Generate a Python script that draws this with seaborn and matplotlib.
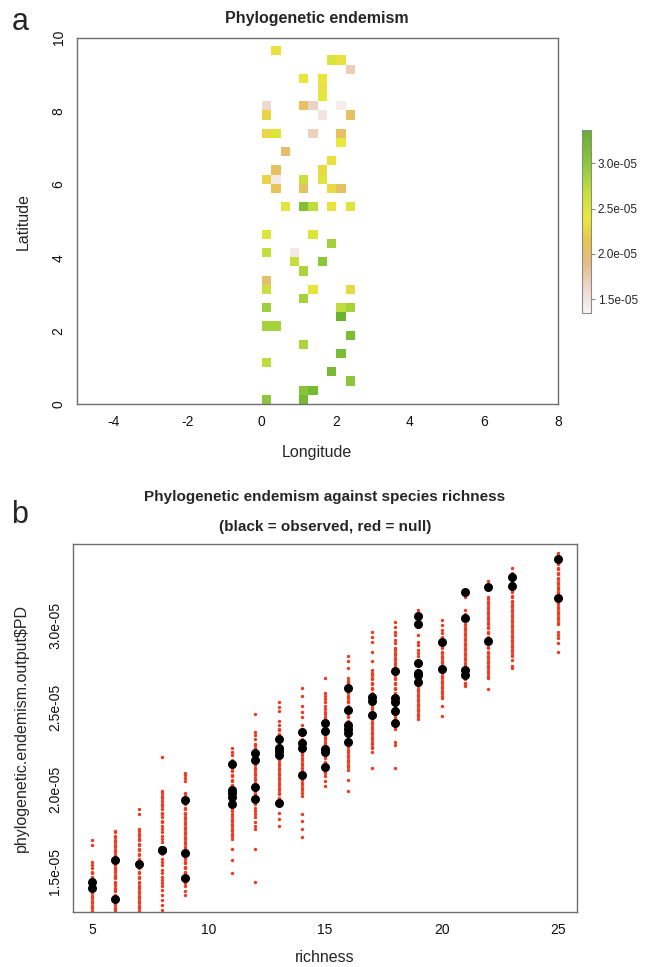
import numpy as np
import pandas as pd
import matplotlib
matplotlib.use("Agg")
import matplotlib.pyplot as plt
from matplotlib.colors import LinearSegmentedColormap
import seaborn as sns

# ---- panel a: gridded phylogenetic endemism (values in 1e-05) ----
# column index (0.25 deg wide, starting at lon 0) and lower latitude of each cell
cell_col = [1, 7, 8, 9, 4, 6, 6, 6, 0, 4, 5, 8, 0, 6, 9, 0, 1, 5, 8, 8, 2, 7, 1, 6,
            0, 1, 4, 6, 1, 4, 7, 8, 2, 4, 5, 7, 9, 0, 5, 7, 0, 3, 3, 6, 4, 0, 0, 5,
            9, 4, 0, 8, 9, 8, 0, 1, 9, 4, 8, 0, 7, 9, 4, 5, 0, 4]
cell_lat = [9.5, 9.25, 9.25, 9.0, 8.75, 8.75, 8.5, 8.25, 8.0, 8.0, 8.0, 8.0, 7.75, 7.75, 7.75,
            7.25, 7.25, 7.25, 7.25, 7.0, 6.75, 6.5, 6.25, 6.25, 6.0, 6.0, 6.0, 6.0, 5.75, 5.75,
            5.75, 5.75, 5.25, 5.25, 5.25, 5.25, 5.25, 4.5, 4.5, 4.25, 4.0, 4.0, 3.75, 3.75, 3.5,
            3.25, 3.0, 3.0, 3.0, 2.75, 2.5, 2.5, 2.5, 2.25, 2.0, 2.0, 1.75, 1.5, 1.25, 1.0,
            0.75, 0.5, 0.25, 0.25, 0.0, 0.0]
cell_pe = [2.35, 2.52, 2.35, 1.70, 2.38, 2.38, 2.35, 2.45, 1.60, 2.05, 1.65, 1.40, 2.25, 1.48, 2.05,
           2.28, 2.50, 1.68, 2.05, 2.40, 2.00, 2.35, 2.05, 2.30, 2.25, 1.45, 2.65, 2.48, 2.10, 2.05,
           2.30, 2.05, 2.48, 3.10, 2.70, 2.35, 2.50, 2.50, 2.50, 2.88, 2.68, 1.45, 2.68, 3.00, 2.82,
           2.00, 2.62, 2.45, 2.30, 2.85, 2.90, 2.70, 2.85, 3.30, 2.85, 2.85, 3.15, 2.82, 3.15, 2.72,
           3.20, 3.00, 3.05, 3.20, 3.00, 3.20]

pe_min, pe_max = 1.35, 3.37
pe_ticks = [1.5, 2.0, 2.5, 3.0]

# ---- panel b: observed PE (black) and null PE (red) by richness, in 1e-05 ----
obs = {
    5: [1.44, 1.40],
    6: [1.57, 1.335],
    7: [1.545],
    8: [1.635, 1.63],
    9: [1.935, 1.615, 1.46],
    11: [2.155, 2.0, 1.98, 1.955, 1.91],
    12: [2.22, 2.18, 2.014, 1.943],
    13: [2.31, 2.255, 2.235, 2.208, 1.918],
    14: [2.351, 2.286, 2.255, 2.086],
    15: [2.405, 2.354, 2.247, 2.227, 2.138],
    16: [2.616, 2.484, 2.392, 2.371, 2.347, 2.29],
    17: [2.565, 2.541, 2.453],
    18: [2.72, 2.555, 2.531, 2.48, 2.402],
    19: [3.057, 3.008, 2.77, 2.71, 2.70, 2.652],
    20: [2.90, 2.733],
    21: [3.201, 3.043, 2.729, 2.695],
    22: [3.235, 2.905],
    23: [3.296, 3.241],
    25: [3.401, 3.168],
}

null = {
    5: [1.69, 1.66, 1.56, 1.54, 1.52, 1.50, 1.49, 1.47, 1.46, 1.44, 1.43, 1.41, 1.40, 1.38,
        1.37, 1.35, 1.34, 1.32, 1.31, 1.29, 1.28, 1.26, 1.25],
    6: [1.75, 1.74, 1.72, 1.71, 1.69, 1.68, 1.66, 1.65, 1.63, 1.62, 1.60, 1.59, 1.58, 1.56,
        1.55, 1.54, 1.52, 1.51, 1.50, 1.48, 1.47, 1.46, 1.44, 1.43, 1.42, 1.40, 1.39, 1.38,
        1.36, 1.35, 1.34, 1.32, 1.31, 1.30, 1.28, 1.27, 1.26],
    7: [1.88, 1.85, 1.76, 1.75, 1.73, 1.72, 1.70, 1.69, 1.67, 1.66, 1.64, 1.63, 1.61, 1.60,
        1.58, 1.57, 1.55, 1.53, 1.52, 1.50, 1.49, 1.47, 1.46, 1.44, 1.43, 1.41, 1.40, 1.38,
        1.37, 1.35, 1.34, 1.32, 1.31, 1.29, 1.28, 1.26],
    8: [2.20, 1.99, 1.98, 1.96, 1.95, 1.93, 1.91, 1.90, 1.88, 1.86, 1.85, 1.83, 1.81, 1.80,
        1.78, 1.76, 1.74, 1.72, 1.70, 1.68, 1.65, 1.63, 1.61, 1.58, 1.56, 1.54, 1.51, 1.49,
        1.47, 1.45, 1.43, 1.41, 1.39, 1.36, 1.33, 1.30, 1.27],
    9: [2.10, 2.09, 2.07, 2.05, 1.98, 1.97, 1.95, 1.94, 1.92, 1.91, 1.89, 1.88, 1.86, 1.85,
        1.83, 1.82, 1.80, 1.79, 1.77, 1.76, 1.74, 1.73, 1.71, 1.70, 1.68, 1.67, 1.65, 1.64,
        1.62, 1.61, 1.59, 1.58, 1.56, 1.55, 1.53, 1.52, 1.50, 1.49, 1.47, 1.46, 1.44, 1.43,
        1.41, 1.38, 1.36],
    11: [2.25, 2.23, 2.21, 2.18, 2.17, 2.15, 2.14, 2.12, 2.11, 2.09, 2.08, 2.06, 2.05, 2.03,
         2.02, 2.00, 1.99, 1.97, 1.96, 1.94, 1.93, 1.91, 1.90, 1.88, 1.87, 1.85, 1.84, 1.82,
         1.81, 1.79, 1.78, 1.76, 1.75, 1.73, 1.72, 1.70, 1.64, 1.57, 1.49],
    12: [2.46, 2.35, 2.33, 2.31, 2.28, 2.27, 2.25, 2.24, 2.22, 2.21, 2.19, 2.18, 2.16, 2.15,
         2.13, 2.12, 2.10, 2.09, 2.07, 2.06, 2.04, 2.03, 2.01, 2.00, 1.98, 1.97, 1.95, 1.94,
         1.92, 1.91, 1.89, 1.87, 1.85, 1.83, 1.80, 1.78, 1.76, 1.64, 1.44],
    13: [2.53, 2.50, 2.48, 2.42, 2.39, 2.37, 2.36, 2.34, 2.33, 2.31, 2.30, 2.28, 2.27, 2.25,
         2.24, 2.22, 2.21, 2.19, 2.18, 2.16, 2.15, 2.13, 2.12, 2.10, 2.09, 2.07, 2.06, 2.04,
         2.03, 2.01, 2.00, 1.98, 1.97, 1.95, 1.94, 1.86, 1.82, 1.78],
    14: [2.62, 2.57, 2.51, 2.47, 2.44, 2.39, 2.37, 2.36, 2.34, 2.33, 2.31, 2.30, 2.28, 2.27,
         2.25, 2.24, 2.22, 2.21, 2.19, 2.18, 2.16, 2.15, 2.13, 2.12, 2.10, 2.09, 2.07, 2.06,
         2.04, 2.03, 2.01, 2.00, 1.98, 1.96, 1.85, 1.81, 1.76, 1.71],
    15: [2.68, 2.59, 2.57, 2.55, 2.53, 2.51, 2.49, 2.47, 2.46, 2.44, 2.43, 2.41, 2.40, 2.38,
         2.37, 2.35, 2.34, 2.32, 2.31, 2.29, 2.28, 2.26, 2.25, 2.23, 2.22, 2.20, 2.19, 2.17,
         2.16, 2.14, 2.13, 2.11, 2.10, 2.08, 2.05, 2.02],
    16: [2.81, 2.78, 2.74, 2.68, 2.66, 2.65, 2.63, 2.62, 2.60, 2.59, 2.57, 2.56, 2.54, 2.53,
         2.51, 2.50, 2.48, 2.47, 2.45, 2.44, 2.42, 2.41, 2.39, 2.38, 2.36, 2.35, 2.33, 2.32,
         2.30, 2.29, 2.27, 2.26, 2.24, 2.23, 2.21, 2.20, 2.18, 2.17, 2.15, 2.14, 2.12, 2.06,
         1.99],
    17: [2.96, 2.93, 2.90, 2.84, 2.78, 2.73, 2.71, 2.70, 2.68, 2.67, 2.65, 2.64, 2.62, 2.61,
         2.59, 2.58, 2.56, 2.55, 2.53, 2.52, 2.50, 2.49, 2.47, 2.46, 2.44, 2.43, 2.41, 2.40,
         2.38, 2.37, 2.35, 2.34, 2.32, 2.31, 2.29, 2.28, 2.26, 2.25, 2.23, 2.13],
    18: [3.02, 2.99, 2.96, 2.94, 2.91, 2.89, 2.86, 2.85, 2.83, 2.82, 2.80, 2.79, 2.77, 2.76,
         2.74, 2.73, 2.71, 2.70, 2.68, 2.67, 2.65, 2.64, 2.62, 2.61, 2.59, 2.58, 2.56, 2.55,
         2.53, 2.52, 2.50, 2.49, 2.47, 2.46, 2.44, 2.43, 2.41, 2.40, 2.38, 2.37, 2.29, 2.27,
         2.13],
    19: [3.09, 3.07, 3.04, 3.02, 2.99, 2.94, 2.90, 2.88, 2.85, 2.83, 2.81, 2.79, 2.78, 2.76,
         2.75, 2.73, 2.72, 2.70, 2.69, 2.67, 2.66, 2.64, 2.63, 2.61, 2.60, 2.58, 2.57, 2.55,
         2.54, 2.52, 2.51, 2.49, 2.48, 2.46, 2.45, 2.43],
    20: [3.03, 3.00, 2.97, 2.95, 2.93, 2.92, 2.90, 2.89, 2.87, 2.86, 2.84, 2.83, 2.81, 2.80,
         2.78, 2.77, 2.75, 2.74, 2.72, 2.71, 2.69, 2.68, 2.66, 2.65, 2.63, 2.62, 2.60, 2.59,
         2.57, 2.56, 2.51, 2.45],
    21: [3.17, 3.09, 3.07, 3.06, 3.04, 3.03, 3.01, 3.00, 2.98, 2.97, 2.95, 2.94, 2.92, 2.91,
         2.89, 2.88, 2.86, 2.85, 2.83, 2.82, 2.80, 2.79, 2.77, 2.76, 2.74, 2.73, 2.71, 2.70,
         2.68, 2.67, 2.65, 2.64, 2.63],
    22: [3.27, 3.17, 3.16, 3.14, 3.13, 3.11, 3.10, 3.08, 3.07, 3.05, 3.04, 3.02, 3.01, 2.99,
         2.98, 2.96, 2.95, 2.93, 2.92, 2.90, 2.89, 2.87, 2.86, 2.84, 2.83, 2.81, 2.80, 2.78,
         2.77, 2.75, 2.74, 2.72, 2.71, 2.69, 2.68, 2.61],
    23: [3.35, 3.32, 3.30, 3.29, 3.27, 3.26, 3.24, 3.23, 3.21, 3.20, 3.18, 3.17, 3.15, 3.14,
         3.12, 3.11, 3.09, 3.08, 3.06, 3.05, 3.03, 3.02, 3.00, 2.99, 2.97, 2.96, 2.94, 2.93,
         2.91, 2.90, 2.88, 2.87, 2.85, 2.84, 2.82, 2.81, 2.79, 2.75, 2.74],
    25: [3.44, 3.43, 3.41, 3.40, 3.38, 3.37, 3.35, 3.34, 3.32, 3.31, 3.29, 3.28, 3.26, 3.25,
         3.23, 3.22, 3.20, 3.19, 3.17, 3.16, 3.14, 3.13, 3.11, 3.10, 3.08, 3.07, 3.05, 3.04,
         3.02, 3.01, 2.96, 2.94, 2.92, 2.89, 2.84],
}

b_ticks = [1.5, 2.0, 2.5, 3.0]
b_ylim = (1.253, 3.496)
b_xlim = (4.2, 25.8)

AXIS_COL = "#6e6e6e"


def style_axes(ax):
    for s in ax.spines.values():
        s.set_visible(True)
        s.set_color(AXIS_COL)
        s.set_linewidth(1.0)
    ax.tick_params(direction="out", length=5, width=1.0, color=AXIS_COL,
                   labelsize=10, pad=3, labelcolor="#111111")
    ax.tick_params(axis="y", labelrotation=90)
    for lab in ax.get_yticklabels():
        lab.set_va("center")


def main():
    sns.set_theme(style="white")
    plt.rcParams["font.family"] = ["Liberation Sans", "DejaVu Sans"]
    plt.rcParams["axes.unicode_minus"] = False

    fig = plt.figure(figsize=(6.48, 9.67), dpi=100)
    W, H = 648, 967

    def rect(l, t, r, b):
        return [l / W, 1 - b / H, (r - l) / W, (b - t) / H]

    # ---------------- panel a ----------------
    ax_a = fig.add_axes(rect(76.7, 37.7, 558, 404.3))
    cells = pd.DataFrame({"col": cell_col, "lat": cell_lat, "pe": cell_pe})
    cells["row"] = (np.array(cell_lat) / 0.25).astype(int)
    grid = cells.pivot_table(index="row", columns="col", values="pe")
    grid = grid.reindex(index=range(40), columns=range(10))

    cmap = LinearSegmentedColormap.from_list("pe", [
        (0.0, "#f7f4f4"),
        ((1.6 - pe_min) / (pe_max - pe_min), "#eed8d0"),
        ((1.9 - pe_min) / (pe_max - pe_min), "#e6bc84"),
        ((2.15 - pe_min) / (pe_max - pe_min), "#e7c64e"),
        ((2.4 - pe_min) / (pe_max - pe_min), "#ebe83c"),
        ((2.7 - pe_min) / (pe_max - pe_min), "#c2de3e"),
        ((3.0 - pe_min) / (pe_max - pe_min), "#8dc83c"),
        (1.0, "#66ae30"),
    ])
    im = ax_a.imshow(grid.values * 1e-5, origin="lower", extent=[0, 2.5, 0, 10],
                     cmap=cmap, vmin=pe_min * 1e-5, vmax=pe_max * 1e-5,
                     interpolation="nearest", aspect="auto")
    ax_a.set_xlim(-5, 8)
    ax_a.set_ylim(0, 10)
    ax_a.set_xticks([-4, -2, 0, 2, 4, 6, 8])
    ax_a.set_yticks([0, 2, 4, 6, 8, 10])
    style_axes(ax_a)
    ax_a.set_xlabel("Longitude", fontsize=11.5)
    ax_a.set_ylabel("Latitude", fontsize=11.5)
    ax_a.xaxis.set_label_coords(0.5, -(452 - 404.3) / 366.6)
    ax_a.xaxis.label.set_va("center")
    ax_a.yaxis.set_label_coords(-(76.7 - 23) / 481.3, 0.5)
    ax_a.yaxis.label.set_va("center")
    fig.text(317 / W, 1 - 18 / H, "Phylogenetic endemism", ha="center", va="center",
             fontsize=11.5, fontweight="bold")
    fig.text(20 / W, 1 - 22 / H, "a", ha="center", va="center", fontsize=22)

    cax = fig.add_axes(rect(581.7, 130, 590.7, 312.7))
    cb = fig.colorbar(im, cax=cax, ticks=[t * 1e-5 for t in pe_ticks])
    cb.ax.set_yticklabels([f"{t * 1e-5:.1e}" for t in pe_ticks])
    cb.outline.set_edgecolor("#8a8a8a")
    cb.outline.set_linewidth(0.8)
    cb.ax.tick_params(length=3, width=0.8, color="#8a8a8a", labelsize=8.5, pad=2)

    # ---------------- panel b ----------------
    ax_b = fig.add_axes(rect(73.3, 543.7, 577, 912.3))
    null_df = pd.DataFrame([(r, v * 1e-5) for r, vals in null.items() for v in vals],
                           columns=["richness", "pe"])
    obs_df = pd.DataFrame([(r, v * 1e-5) for r, vals in obs.items() for v in vals],
                          columns=["richness", "pe"])
    sns.scatterplot(data=null_df, x="richness", y="pe", ax=ax_b, color="#ee3b1f",
                    s=6, linewidth=0, zorder=2)
    sns.scatterplot(data=obs_df, x="richness", y="pe", ax=ax_b, color="black",
                    s=42, linewidth=0, zorder=3)
    ax_b.set_xlim(*b_xlim)
    ax_b.set_ylim(b_ylim[0] * 1e-5, b_ylim[1] * 1e-5)
    ax_b.set_xticks([5, 10, 15, 20, 25])
    ax_b.set_yticks([t * 1e-5 for t in b_ticks])
    ax_b.set_yticklabels([f"{t * 1e-5:.1e}" for t in b_ticks])
    style_axes(ax_b)
    ax_b.set_xlabel("richness", fontsize=11.5)
    ax_b.set_ylabel(r"phylogenetic.endemism.output\$PD", fontsize=11.5)
    ax_b.xaxis.set_label_coords(0.5, -(957 - 912.3) / 368.6)
    ax_b.xaxis.label.set_va("center")
    ax_b.yaxis.set_label_coords(-(73.3 - 21) / 503.7, 0.5)
    ax_b.yaxis.label.set_va("center")
    fig.text(325 / W, 1 - 497 / H, "Phylogenetic endemism against species richness",
             ha="center", va="center", fontsize=11, fontweight="bold")
    fig.text(325 / W, 1 - 527 / H, "(black = observed, red = null)",
             ha="center", va="center", fontsize=11, fontweight="bold")
    fig.text(20 / W, 1 - 515 / H, "b", ha="center", va="center", fontsize=22)

    fig.savefig("out.png", dpi=100)


if __name__ == "__main__":
    main()
